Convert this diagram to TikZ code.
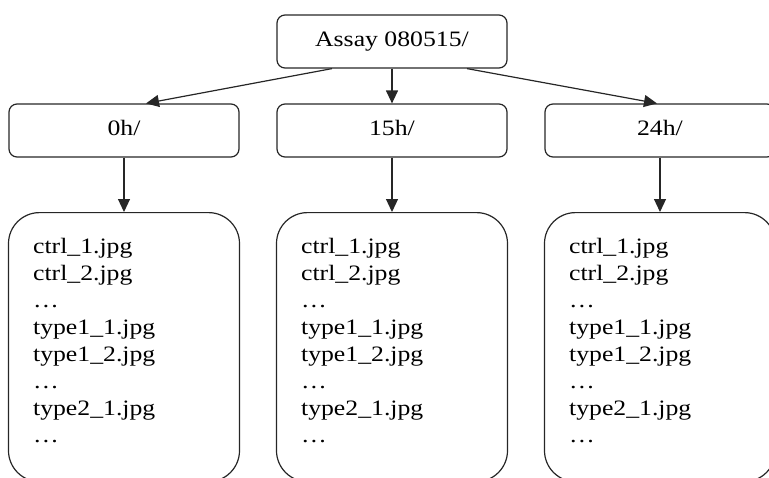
\documentclass[tikz,border=0pt]{standalone}
\usepackage{fontspec}
\setmainfont{Liberation Serif}[FakeStretch=1.17]
\usetikzlibrary{arrows.meta,calc}
\tikzset{
  dirbox/.style={draw=black!85, line width=1.2pt, rounded corners=8pt,
    minimum width=230pt, minimum height=53pt, inner sep=0pt,
    text height=15pt, text depth=5pt,
    font=\fontsize{22}{27}\selectfont},
  listbox/.style={draw=black!85, line width=1.2pt, rounded corners=31pt,
    minimum width=231pt, minimum height=269pt, inner sep=0pt},
  listtext/.style={anchor=base west, inner sep=0pt,
    font=\fontsize{22}{27}\selectfont},
  edge/.style={draw=black!85, line width=1.2pt,
    -{Triangle[length=13pt,width=12pt]}}
}
\begin{document}
\begin{tikzpicture}[x=1pt,y=-1pt]
\useasboundingbox (0,0) rectangle (769,477);
\clip (0,0) rectangle (769,477);
\node[dirbox] (top) at (392,41.5) {Assay 080515/};
\node[dirbox] (h0) at (124,130.5) {0h/};
\node[dirbox] (h15) at (392,130.5) {15h/};
\node[dirbox] (h24) at (660,130.5) {24h/};
\node[listbox, anchor=north] (l0) at (124,212) {};
\node[listbox, anchor=north] (l15) at (392,212) {};
\node[listbox, anchor=north] (l24) at (660,212) {};
\draw[edge] ([xshift=-60pt]top.south) -- ([xshift=22pt]h0.north);
\draw[edge] (top.south) -- (h15.north);
\draw[edge] ([xshift=75pt]top.south) -- ([xshift=-3pt]h24.north);
\draw[edge] (h0) -- (l0);
\draw[edge] (h15) -- (l15);
\draw[edge] (h24) -- (l24);
\foreach \b in {l0,l15,l24}{
  \foreach \t [count=\i from 0] in {ctrl\_1.jpg,ctrl\_2.jpg,…,type1\_1.jpg,type1\_2.jpg,…,type2\_1.jpg,…}{
    \node[listtext] (\b-\i) at ($(\b.north west)+(25,41+27.14*\i)$) {\t};
  }
}
\end{tikzpicture}
\end{document}
